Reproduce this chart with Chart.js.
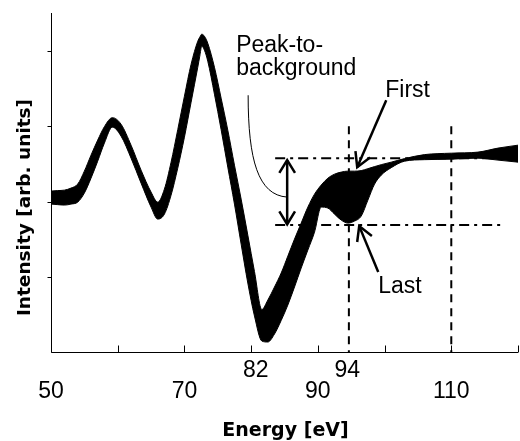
<!DOCTYPE html>
<html><head><meta charset="utf-8">
<script src="https://cdn.jsdelivr.net/npm/chart.js@4/dist/chart.umd.min.js"></script>
<style>html,body{margin:0;padding:0;background:#fff}canvas{display:block}</style>
</head><body>
<canvas id="c" width="520" height="441"></canvas>
<script>
// ---- data ----
const energy = [50,51,52,53,54,55,56,57,58,59.2,60.5,62,63.5,65,66,67,68,69,70,71,72,72.3,72.6,73.0,73.5,74.5,75.5,76.5,77.5,78.5,79.5,80.5,81.6,82.5,83.5,84.5,85.5,86.5,87.5,88.5,89.5,90.5,91.5,92.5,93.5,94.5,95.5,96.5,97.5,98.5,99.5,101,103,106,110,114,117,120];
// upper edge of the spectrum bundle ("First" spectrum near 94 eV)
const firstSpectrum = [2.139,2.146,2.152,2.179,2.232,2.404,2.616,2.815,2.993,3.113,3.026,2.748,2.417,2.126,1.993,2.166,2.523,2.954,3.397,3.821,4.126,4.179,4.219,4.192,4.099,3.781,3.371,2.947,2.483,2.033,1.556,1.073,0.57,0.695,0.868,1.053,1.278,1.503,1.715,1.927,2.099,2.219,2.311,2.364,2.391,2.404,2.404,2.411,2.437,2.464,2.490,2.523,2.570,2.623,2.642,2.656,2.709,2.748];
// lower edge of the spectrum bundle ("Last" spectrum near 94 eV)
const lastSpectrum = [1.967,1.960,1.954,1.967,1.993,2.113,2.311,2.536,2.775,2.987,2.868,2.576,2.245,1.927,1.768,1.834,2.086,2.444,2.854,3.318,3.781,3.927,4.06,4.007,3.861,3.424,2.954,2.457,1.967,1.437,0.921,0.483,0.152,0.139,0.245,0.424,0.629,0.868,1.119,1.358,1.596,1.927,1.914,1.834,1.755,1.715,1.742,1.808,2.020,2.232,2.351,2.450,2.536,2.556,2.563,2.576,2.550,2.523];
const xTicks = [50,60,70,80,90,100,110,120];
const xLabelsLower = ['50','70','90','110'];
const xLabelsLowerAt = [50,70,90,110];
const xLabelsUpper = ['82','94'];
const xLabelsUpperAt = [80.7,94.4];
const yTicks = [1,2,3,4];
const markerEnergies = [94.65,110];   // dashed verticals
const markerTop = 3.0;
const levelValues = [2.576,1.689];     // dash-dot horizontals
const levelRange = [83.6,117.65];
const pbArrow = {x:85.4, top:2.55, bottom:1.70};
const firstArrow = {fx:100.25, fy:3.344, tx:95.9, ty:2.457};
const lastArrow = {fx:99.05, fy:1.066, tx:96.2, ty:1.675};

const pts = arr => arr.map((v,i)=>({x:energy[i], y:v}));

function head(ctx, tx, ty, fx, fy, len, ang){
  const a = Math.atan2(fy-ty, fx-tx);
  ctx.beginPath();
  ctx.moveTo(tx+len*Math.cos(a+ang), ty+len*Math.sin(a+ang));
  ctx.lineTo(tx, ty);
  ctx.lineTo(tx+len*Math.cos(a-ang), ty+len*Math.sin(a-ang));
  ctx.stroke();
}

const overlay = {
  id:'overlay',
  afterDatasetsDraw(chart){
    const {ctx, chartArea:a, scales:{x, y}} = chart;
    const X = v=>x.getPixelForValue(v), Y = v=>y.getPixelForValue(v);
    ctx.save();
    ctx.strokeStyle = '#000'; ctx.fillStyle = '#000';
    // axes
    ctx.lineWidth = 1;
    ctx.beginPath();
    ctx.moveTo(a.left+0.5, a.top); ctx.lineTo(a.left+0.5, a.bottom); ctx.lineTo(a.right, a.bottom);
    ctx.stroke();
    ctx.beginPath();
    xTicks.forEach(t=>{ const px = Math.round(X(t))+0.5; ctx.moveTo(px, a.bottom); ctx.lineTo(px, a.bottom-7); });
    yTicks.forEach(t=>{ const py = Math.round(Y(t))+0.5; ctx.moveTo(a.left+0.5, py); ctx.lineTo(a.left-3.5, py); });
    ctx.stroke();
    // tick labels
    ctx.font = '23px "Liberation Sans", Arial, sans-serif';
    ctx.textAlign = 'center'; ctx.textBaseline = 'alphabetic';
    xLabelsLower.forEach((s,i)=>ctx.fillText(s, X(xLabelsLowerAt[i]), 398));
    xLabelsUpper.forEach((s,i)=>ctx.fillText(s, X(xLabelsUpperAt[i]), 377));
    // axis titles
    ctx.font = 'bold 19px "DejaVu Sans", sans-serif';
    ctx.fillText('Energy [eV]', 285.5, 436);
    ctx.save();
    ctx.translate(30, 207.5); ctx.rotate(-Math.PI/2);
    ctx.font = 'bold 18.5px "DejaVu Sans", sans-serif';
    ctx.fillText('Intensity [arb. units]', 0, 0);
    ctx.restore();
    // dashed verticals
    ctx.lineWidth = 2;
    ctx.setLineDash([8,6]);
    markerEnergies.forEach(e=>{ ctx.beginPath(); ctx.moveTo(X(e), Y(markerTop)); ctx.lineTo(X(e), a.bottom); ctx.stroke(); });
    // dash-dot horizontals
    ctx.setLineDash([10,5,3,5]);
    levelValues.forEach(v=>{ ctx.beginPath(); ctx.moveTo(X(levelRange[0]), Y(v)); ctx.lineTo(X(levelRange[1]), Y(v)); ctx.stroke(); });
    ctx.setLineDash([]);
    // peak-to-background double arrow
    ctx.lineWidth = 2.5;
    const ax = X(pbArrow.x), at = Y(pbArrow.top), ab = Y(pbArrow.bottom);
    ctx.beginPath(); ctx.moveTo(ax, at); ctx.lineTo(ax, ab); ctx.stroke();
    head(ctx, ax, at, ax, ab, 15, 0.55);
    head(ctx, ax, ab, ax, at, 15, 0.55);
    // First / Last arrows
    [firstArrow, lastArrow].forEach(r=>{
      const fx=X(r.fx), fy=Y(r.fy), tx=X(r.tx), ty=Y(r.ty);
      ctx.beginPath(); ctx.moveTo(fx, fy); ctx.lineTo(tx, ty); ctx.stroke();
      head(ctx, tx, ty, fx, fy, 16, 0.52);
    });
    // leader curve
    ctx.lineWidth = 1;
    ctx.beginPath();
    ctx.moveTo(X(79.55), Y(3.41));
    ctx.bezierCurveTo(X(79.55), Y(2.55), X(81.05), Y(2.086), X(85.4), Y(2.06));
    ctx.stroke();
    // texts
    ctx.font = '23px "Liberation Sans", Arial, sans-serif';
    ctx.textAlign = 'left';
    ctx.fillText('Peak-to-', X(77.75), Y(3.98));
    ctx.fillText('background', X(77.75), Y(3.675));
    ctx.fillText('First', X(100.1), Y(3.384));
    ctx.fillText('Last', X(99.05), Y(0.788));
    ctx.restore();
  }
};

new Chart(document.getElementById('c'), {
  type:'line',
  data:{ datasets:[
    {data:pts(firstSpectrum), borderColor:'#000', borderWidth:1, pointRadius:0, fill:false, cubicInterpolationMode:'monotone'},
    {data:pts(lastSpectrum), borderColor:'#000', borderWidth:1, pointRadius:0, fill:'-1', backgroundColor:'#000', cubicInterpolationMode:'monotone'}
  ]},
  options:{
    responsive:false, animation:false, devicePixelRatio:1,
    layout:{padding:{left:51, top:13, right:2, bottom:88.5}},
    plugins:{legend:{display:false}, tooltip:{enabled:false}},
    scales:{
      x:{type:'linear', min:50, max:120, display:false},
      y:{type:'linear', min:0, max:4.5, display:false}
    }
  },
  plugins:[overlay]
});
</script>
</body></html>
